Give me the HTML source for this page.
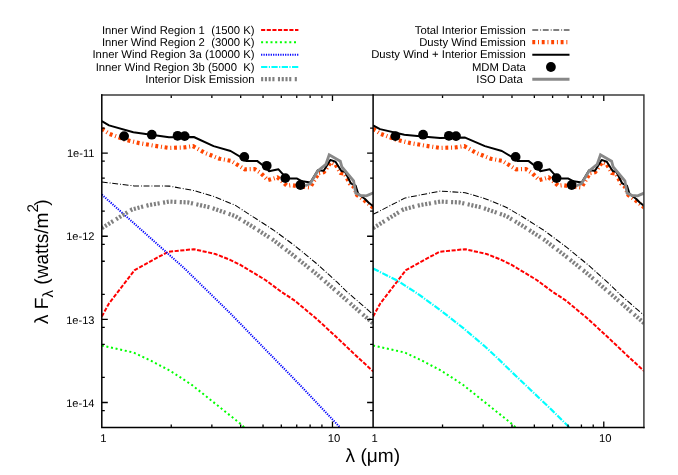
<!DOCTYPE html>
<html><head><meta charset="utf-8"><title>SED plot</title>
<style>html,body{margin:0;padding:0;background:#fff}body{width:678px;height:475px;position:relative;overflow:hidden;font-family:"Liberation Sans",sans-serif}</style></head>
<body>
<svg width="678" height="475" viewBox="0 0 678 475" style="position:absolute;left:0;top:0;will-change:transform">
<defs><clipPath id="cl"><rect x="101.8" y="94.9" width="271.3" height="332.6"/></clipPath><clipPath id="cr"><rect x="373.1" y="94.9" width="270.79999999999995" height="332.6"/></clipPath></defs>
<g clip-path="url(#cl)" fill="none" stroke-linejoin="round">
<polyline points="101.8,316.5 109.0,303.4 134.7,270.1 168.0,251.8 193.8,249.2 215.3,254.0 230.0,259.8 240.0,264.7 251.5,271.6 265.4,280.0 281.6,292.0 294.4,300.4 315.9,318.2 337.4,338.0 358.9,358.4 373.5,371.6" stroke="#ff0000" stroke-width="2" stroke-dasharray="4.1 1.55"/>
<polyline points="101.8,345.5 133.7,352.6 150.9,360.7 170.2,370.8 191.7,384.8 213.2,402.0 240.0,423.4 246.0,429.0" stroke="#00ff00" stroke-width="2" stroke-dasharray="2 2.7"/>
<polyline points="101.8,194.6 183.8,267.8 230.0,313.0 251.5,335.2 273.0,357.3 294.4,379.2 342.0,429.5" stroke="#0000ff" stroke-width="2" stroke-dasharray="1.2 1.2"/>
<polyline points="101.8,228.2 115.6,219.6 132.2,209.4 148.7,205.1 169.3,201.6 187.9,202.4 210.6,207.5 235.0,216.0 251.5,226.0 273.0,239.8 294.4,256.2 315.9,273.5 333.1,288.3 371.8,322.3 373.5,323.8" stroke="#808080" stroke-width="4.2" stroke-dasharray="2.1 1.66 2.1 1.66 2.1 1.66 2.1 3.45"/>
<polyline points="101.8,182.0 134.2,185.9 169.3,186.1 194.1,190.6 214.8,196.8 235.0,205.1 251.5,215.8 273.0,229.7 294.4,245.4 315.9,263.0 337.4,282.4 347.1,292.0 371.8,313.3 373.5,314.8" stroke="#000" stroke-width="1.05" stroke-dasharray="5.9 2 0.9 1.7"/>
<polyline points="101.8,128.8 109.7,133.9 124.5,139.5 139.2,143.1 154.0,145.7 168.7,147.9 183.5,147.5 193.0,146.1 204.7,152.8 219.5,158.7 231.3,160.9 244.6,169.3 254.5,169.0 261.2,173.4 267.9,180.1 273.5,178.5 277.4,177.3 281.9,181.3 286.9,185.7 291.3,185.2 300.0,186.5 309.2,187.4 311.0,186.0 318.5,173.2 323.7,172.3 330.8,162.3 335.0,163.7 340.5,172.9 344.6,173.5 349.8,183.6 353.5,186.6 357.0,195.0 364.5,200.5 373.3,207.8" stroke="#ff4500" stroke-width="4.2" stroke-dasharray="2.9 2.8 1.0 2.75"/>
<polyline points="101.8,121.2 109.0,125.4 133.3,132.2 147.6,134.3 169.0,137.2 193.8,137.0 213.6,146.1 230.6,151.0 244.6,159.4 246.0,160.9 257.1,160.9 266.7,168.3 268.9,171.2 278.5,169.3 285.3,176.9 290.5,178.6 297.1,178.6 302.3,181.3 310.4,182.5 317.8,170.2 323.7,170.7 330.3,159.9 335.5,161.8 341.4,171.0 345.1,171.7 350.8,183.3 355.6,185.6 358.2,193.8 365.0,199.0 368.7,202.7 373.3,206.2" stroke="#000" stroke-width="2"/>
<circle cx="124.1" cy="136.1" r="4.9" fill="#000" stroke="none"/>
<circle cx="151.8" cy="134.7" r="4.9" fill="#000" stroke="none"/>
<circle cx="177.6" cy="135.8" r="4.9" fill="#000" stroke="none"/>
<circle cx="184.7" cy="136.1" r="4.9" fill="#000" stroke="none"/>
<circle cx="244.3" cy="156.9" r="4.9" fill="#000" stroke="none"/>
<circle cx="266.7" cy="165.8" r="4.9" fill="#000" stroke="none"/>
<circle cx="285.3" cy="178.1" r="4.9" fill="#000" stroke="none"/>
<circle cx="300.4" cy="185.0" r="4.9" fill="#000" stroke="none"/>
<polyline points="305.2,185.7 310.4,183.5 317.8,171.0 325.9,164.3 329.2,154.9 340.3,161.2 341.9,167.0 353.6,180.8 355.7,193.1 360.8,195.5 366.4,195.8 373.5,192.8" stroke="#888888" stroke-width="2.8" stroke-linejoin="miter"/>
</g>
<g clip-path="url(#cr)" fill="none" stroke-linejoin="round">
<polyline points="373.1,316.5 380.3,303.4 406.0,270.1 439.3,251.8 465.1,249.2 486.6,254.0 501.3,259.8 511.3,264.7 522.8,271.6 536.7,280.0 552.9,292.0 565.7,300.4 587.2,318.2 608.7,338.0 630.2,358.4 644.8,371.6" stroke="#ff0000" stroke-width="2" stroke-dasharray="4.1 1.55"/>
<polyline points="373.1,345.5 405.0,352.6 422.2,360.7 441.5,370.8 463.0,384.8 484.5,402.0 511.3,423.4 517.3,429.0" stroke="#00ff00" stroke-width="2" stroke-dasharray="2 2.7"/>
<polyline points="373.1,268.5 398.2,281.1 419.7,295.1 441.2,310.9 462.7,327.6 484.2,345.8 497.0,357.6 509.0,369.3 530.4,389.7 551.9,410.1 572.0,430.0" stroke="#00ffff" stroke-width="2.2" stroke-dasharray="6.3 1.4 1.2 1.4"/>
<polyline points="373.1,228.2 386.9,219.6 403.5,209.4 420.0,205.1 440.6,201.6 459.2,202.4 481.9,207.5 506.3,216.0 522.8,226.0 544.3,239.8 565.7,256.2 587.2,273.5 604.4,288.3 643.1,322.3 644.8,323.8" stroke="#808080" stroke-width="4.2" stroke-dasharray="2.1 1.66 2.1 1.66 2.1 1.66 2.1 3.45"/>
<polyline points="373.1,214.4 405.2,197.9 440.3,191.1 465.1,192.7 485.8,198.9 506.0,207.2 522.1,216.5 544.2,230.5 566.4,247.1 588.5,265.2 610.6,285.1 620.6,295.0 644.8,316.0" stroke="#000" stroke-width="1.05" stroke-dasharray="5.9 2 0.9 1.7"/>
<polyline points="373.1,128.8 381.0,133.9 395.8,139.5 410.5,143.1 425.3,145.7 440.0,147.9 454.8,147.5 464.3,146.1 476.0,152.8 490.8,158.7 502.6,160.9 515.9,169.3 525.8,169.0 532.5,173.4 539.2,180.1 544.8,178.5 548.7,177.3 553.2,181.3 558.2,185.7 562.6,185.2 571.3,186.5 580.5,187.4 582.3,186.0 589.8,173.2 595.0,172.3 602.1,162.3 606.3,163.7 611.8,172.9 615.9,173.5 621.1,183.6 624.8,186.6 628.3,195.0 635.8,200.5 644.6,207.8" stroke="#ff4500" stroke-width="4.2" stroke-dasharray="2.9 2.8 1.0 2.75"/>
<polyline points="373.1,125.4 380.0,129.1 404.3,134.7 422.5,136.5 440.0,138.1 465.1,137.6 484.9,146.1 501.9,151.0 515.9,159.4 517.3,160.9 528.4,160.9 538.0,168.3 540.2,171.2 549.8,169.3 556.6,176.9 561.8,178.6 568.4,178.6 573.6,181.3 581.7,182.5 589.1,170.2 595.0,170.7 601.6,159.9 606.8,161.8 612.7,171.0 616.4,171.7 622.1,183.3 626.9,185.6 629.5,193.8 636.3,199.0 640.0,202.7 644.6,206.2" stroke="#000" stroke-width="2"/>
<circle cx="395.4" cy="136.1" r="4.9" fill="#000" stroke="none"/>
<circle cx="423.1" cy="134.7" r="4.9" fill="#000" stroke="none"/>
<circle cx="448.9" cy="135.8" r="4.9" fill="#000" stroke="none"/>
<circle cx="456.0" cy="136.1" r="4.9" fill="#000" stroke="none"/>
<circle cx="515.6" cy="156.9" r="4.9" fill="#000" stroke="none"/>
<circle cx="538.0" cy="165.8" r="4.9" fill="#000" stroke="none"/>
<circle cx="556.6" cy="178.1" r="4.9" fill="#000" stroke="none"/>
<circle cx="571.7" cy="185.0" r="4.9" fill="#000" stroke="none"/>
<polyline points="576.5,185.7 581.7,183.5 589.1,171.0 597.2,164.3 600.5,154.9 611.6,161.2 613.2,167.0 624.9,180.8 627.0,193.1 632.1,195.5 637.7,195.8 644.8,192.8" stroke="#888888" stroke-width="2.8" stroke-linejoin="miter"/>
</g>
<g stroke="#000" stroke-width="1.3" fill="none">
<path d="M101.8 410.53h3M373.1 410.53h-3"/>
<path d="M101.8 402.48h6M373.1 402.48h-6"/>
<path d="M101.8 377.45h3M373.1 377.45h-3"/>
<path d="M101.8 344.38h3M373.1 344.38h-3"/>
<path d="M101.8 327.41h3M373.1 327.41h-3"/>
<path d="M101.8 319.35h6M373.1 319.35h-6"/>
<path d="M101.8 294.33h3M373.1 294.33h-3"/>
<path d="M101.8 261.25h3M373.1 261.25h-3"/>
<path d="M101.8 244.28h3M373.1 244.28h-3"/>
<path d="M101.8 236.23h6M373.1 236.23h-6"/>
<path d="M101.8 211.20h3M373.1 211.20h-3"/>
<path d="M101.8 178.12h3M373.1 178.12h-3"/>
<path d="M101.8 161.16h3M373.1 161.16h-3"/>
<path d="M101.8 153.10h6M373.1 153.10h-6"/>
<path d="M101.8 128.08h3M373.1 128.08h-3"/>
<path d="M171.24 427.5v-3M171.24 94.9v3"/>
<path d="M211.86 427.5v-3M211.86 94.9v3"/>
<path d="M240.68 427.5v-3M240.68 94.9v3"/>
<path d="M263.04 427.5v-3M263.04 94.9v3"/>
<path d="M281.30 427.5v-3M281.30 94.9v3"/>
<path d="M296.75 427.5v-3M296.75 94.9v3"/>
<path d="M310.12 427.5v-3M310.12 94.9v3"/>
<path d="M321.92 427.5v-3M321.92 94.9v3"/>
<path d="M332.48 427.5v-6M332.48 94.9v6"/>
<path d="M442.54 427.5v-3M442.54 94.9v3"/>
<path d="M483.16 427.5v-3M483.16 94.9v3"/>
<path d="M511.98 427.5v-3M511.98 94.9v3"/>
<path d="M534.34 427.5v-3M534.34 94.9v3"/>
<path d="M552.60 427.5v-3M552.60 94.9v3"/>
<path d="M568.05 427.5v-3M568.05 94.9v3"/>
<path d="M581.42 427.5v-3M581.42 94.9v3"/>
<path d="M593.22 427.5v-3M593.22 94.9v3"/>
<path d="M603.78 427.5v-6M603.78 94.9v6"/>
</g>
<g stroke-width="1.5" fill="none" stroke-linecap="square"><path d="M101.8 94.9H643.9V427.5" stroke="#3c3c3c"/><path d="M101.8 94.9V427.5H643.9M373.1 94.9V427.5" stroke="#000"/></g>
<g fill="none">
<path d="M261.1 29.9H298.4" stroke="#ff0000" stroke-width="2" stroke-dasharray="4.1 1.55"/>
<path d="M261.1 42.2H298.4" stroke="#00ff00" stroke-width="2" stroke-dasharray="2 2.7"/>
<path d="M261.1 54.7H298.4" stroke="#0000ff" stroke-width="2" stroke-dasharray="1.2 1.2"/>
<path d="M261.1 67.0H298.4" stroke="#00ffff" stroke-width="2.2" stroke-dasharray="6.3 1.4 1.2 1.4"/>
<path d="M261.1 79.2H297.2" stroke="#808080" stroke-width="4.2" stroke-dasharray="2.1 1.66 2.1 1.66 2.1 1.66 2.1 3.45" stroke-dashoffset="0"/>
<path d="M532.3 29.9H569.5" stroke="#000" stroke-width="1.05" stroke-dasharray="5.9 2 0.9 1.7"/>
<path d="M532.3 42.2H569.5" stroke="#ff4500" stroke-width="4.2" stroke-dasharray="2.9 2.8 1.0 2.75"/>
<path d="M532.3 54.7H569.5" stroke="#000" stroke-width="2"/>
<circle cx="550.9" cy="67.0" r="4.9" fill="#000"/>
<path d="M532.3 79.2H569.5" stroke="#888888" stroke-width="3"/>
</g>
<g font-family="Liberation Sans, sans-serif" font-size="11.3" fill="#000" text-rendering="geometricPrecision">
<text x="254.5" y="33.6" text-anchor="end" xml:space="preserve">Inner Wind Region 1  (1500 K)</text>
<text x="254.5" y="46.0" text-anchor="end" xml:space="preserve">Inner Wind Region 2  (3000 K)</text>
<text x="254.5" y="58.4" text-anchor="end" xml:space="preserve">Inner Wind Region 3a (10000 K)</text>
<text x="254.5" y="70.8" text-anchor="end" xml:space="preserve">Inner Wind Region 3b (5000  K)</text>
<text x="254.5" y="83.2" text-anchor="end" xml:space="preserve">Interior Disk Emission</text>
<text x="525.9" y="33.6" text-anchor="end" xml:space="preserve">Total Interior Emission</text>
<text x="525.9" y="46.0" text-anchor="end" xml:space="preserve">Dusty Wind Emission</text>
<text x="525.9" y="58.4" text-anchor="end" xml:space="preserve">Dusty Wind + Interior Emission</text>
<text x="525.9" y="70.8" text-anchor="end" xml:space="preserve">MDM Data</text>
<text x="525.9" y="83.2" text-anchor="end" xml:space="preserve">ISO Data </text>
<text x="94.5" y="157.2" text-anchor="end" font-size="11.1">1e-11</text>
<text x="94.5" y="240.3" text-anchor="end" font-size="11.1">1e-12</text>
<text x="94.5" y="323.5" text-anchor="end" font-size="11.1">1e-13</text>
<text x="94.5" y="406.6" text-anchor="end" font-size="11.1">1e-14</text>
<text x="103.3" y="442.3" text-anchor="middle">1</text>
<text x="334.0" y="442.3" text-anchor="middle">10</text>
<text x="374.6" y="442.3" text-anchor="middle">1</text>
<text x="605.3" y="442.3" text-anchor="middle">10</text>
</g>
<g font-family="Liberation Sans, sans-serif" font-size="19.1" fill="#000" text-rendering="geometricPrecision">
<text x="345.6" y="461.5" xml:space="preserve">λ (μm)</text>
<text transform="translate(47.5,324) rotate(-90)" xml:space="preserve">λ F<tspan font-size="14.9" dy="5.5">λ</tspan><tspan dy="-5.5"> (watts/m</tspan><tspan font-size="15.4" dy="-9.8">2</tspan><tspan dy="9.8" dx="-1.8">)</tspan></text>
</g>
</svg>
</body></html>
